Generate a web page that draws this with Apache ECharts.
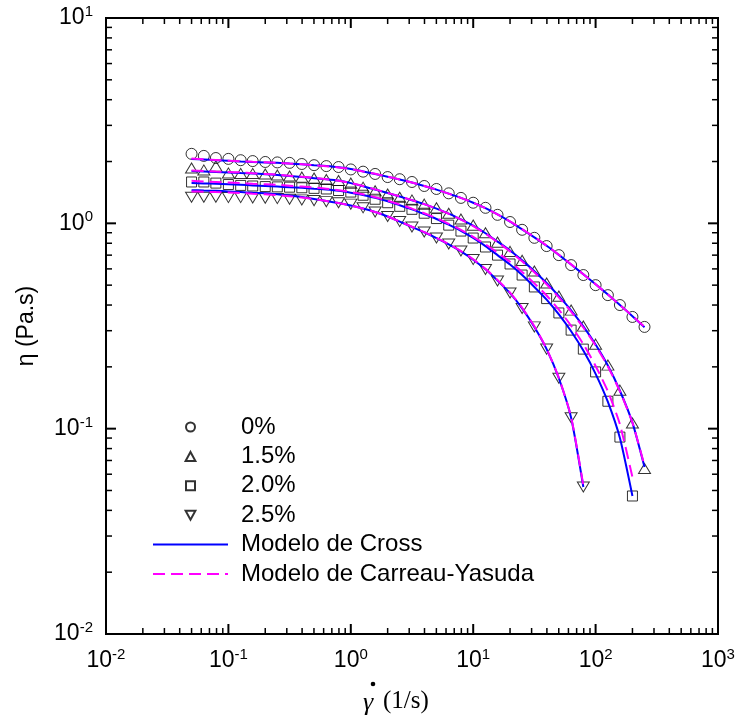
<!DOCTYPE html>
<html><head><meta charset="utf-8">
<script src="https://cdn.jsdelivr.net/npm/echarts@6/dist/echarts.min.js"></script>
<style>html,body{margin:0;padding:0;background:#fff}#c{width:738px;height:724px}</style>
</head><body><div id="c"></div><script>
// ---- data ----
const shear = [0.05,0.063,0.079,0.1,0.126,0.158,0.2,0.251,0.316,0.398,0.501,0.631,0.794,1,1.26,1.58,2,2.51,3.16,3.98,5.01,6.31,7.94,10,12.6,15.8,20,25.1,31.6,39.8,50.1,63.1,79.4,100,126,158,200,251];

const eta0  = [2.18,2.13,2.08,2.06,2.03,2.01,1.99,1.98,1.97,1.945,1.92,1.90,1.88,1.83,1.785,1.74,1.68,1.64,1.59,1.52,1.47,1.40,1.33,1.26,1.19,1.10,1.015,0.93,0.85,0.775,0.70,0.626,0.56,0.50,0.447,0.40,0.35,0.313];
const eta15 = [1.86,1.82,1.90,1.76,1.75,1.75,1.74,1.72,1.70,1.68,1.66,1.635,1.615,1.57,1.50,1.44,1.39,1.34,1.30,1.24,1.19,1.12,1.05,0.98,0.90,0.81,0.73,0.66,0.586,0.512,0.442,0.378,0.316,0.258,0.204,0.154,0.1065,0.064];
const eta20 = [1.59,1.59,1.57,1.545,1.53,1.52,1.51,1.505,1.50,1.49,1.48,1.47,1.445,1.42,1.37,1.31,1.26,1.21,1.17,1.12,1.055,0.98,0.917,0.848,0.767,0.70,0.634,0.56,0.49,0.43,0.366,0.302,0.244,0.189,0.136,0.091,0.047];
const eta25 = [1.34,1.34,1.34,1.335,1.335,1.33,1.325,1.32,1.31,1.30,1.29,1.275,1.26,1.24,1.19,1.135,1.08,1.02,0.96,0.907,0.848,0.793,0.733,0.666,0.596,0.524,0.458,0.385,0.313,0.244,0.176,0.113,0.052];

const cross0  = [2.06,2.045,2.03,2.015,2.0,1.99,1.98,1.97,1.955,1.94,1.92,1.90,1.875,1.84,1.79,1.74,1.685,1.635,1.58,1.52,1.46,1.395,1.33,1.26,1.185,1.105,1.02,0.935,0.855,0.778,0.702,0.63,0.565,0.505,0.45,0.40,0.353,0.312];
const cross15 = [1.80,1.79,1.78,1.77,1.76,1.75,1.735,1.72,1.70,1.68,1.66,1.64,1.615,1.57,1.515,1.46,1.405,1.35,1.295,1.24,1.18,1.115,1.045,0.975,0.895,0.815,0.737,0.66,0.585,0.512,0.442,0.377,0.315,0.257,0.203,0.153,0.107,0.065];
const cross20 = [1.57,1.565,1.56,1.55,1.54,1.53,1.52,1.51,1.50,1.49,1.475,1.46,1.44,1.41,1.375,1.33,1.28,1.225,1.17,1.11,1.05,0.985,0.92,0.85,0.775,0.70,0.63,0.56,0.49,0.425,0.36,0.298,0.24,0.185,0.135,0.09,0.047];
const cross25 = [1.45,1.445,1.44,1.43,1.42,1.41,1.40,1.385,1.365,1.342,1.315,1.285,1.255,1.22,1.18,1.135,1.08,1.02,0.96,0.905,0.848,0.79,0.73,0.665,0.597,0.526,0.457,0.385,0.313,0.244,0.176,0.113,0.052];

const cy0  = [2.07,2.05,2.035,2.02,2.005,1.993,1.982,1.97,1.955,1.94,1.92,1.898,1.872,1.84,1.79,1.742,1.688,1.635,1.58,1.52,1.46,1.395,1.33,1.26,1.185,1.105,1.022,0.938,0.857,0.779,0.703,0.631,0.565,0.505,0.45,0.40,0.354,0.313];
const cy15 = [1.81,1.80,1.79,1.78,1.77,1.755,1.74,1.725,1.705,1.685,1.665,1.64,1.613,1.572,1.52,1.463,1.407,1.352,1.297,1.24,1.18,1.113,1.043,0.97,0.89,0.81,0.73,0.653,0.578,0.505,0.436,0.372,0.311,0.254,0.201,0.152,0.107,0.066];
const cy20 = [1.61,1.60,1.59,1.58,1.57,1.56,1.55,1.54,1.525,1.51,1.495,1.475,1.45,1.42,1.385,1.34,1.29,1.235,1.18,1.12,1.06,0.995,0.93,0.86,0.79,0.72,0.65,0.58,0.51,0.445,0.38,0.317,0.258,0.202,0.152,0.105,0.058];
const cy25 = [1.43,1.425,1.42,1.415,1.405,1.395,1.385,1.37,1.355,1.335,1.312,1.285,1.255,1.22,1.18,1.135,1.08,1.02,0.962,0.906,0.85,0.792,0.732,0.668,0.6,0.53,0.46,0.388,0.315,0.245,0.177,0.114,0.053];

const seriesNames = ['0%','1.5%','2.0%','2.5%'];
const crossName = 'Modelo de Cross';
const cyName = 'Modelo de Carreau-Yasuda';
const xMajor = [0.01,0.1,1,10,100,1000];
const yMajor = [0.01,0.1,1,10];
const minorMult = [2,3,4,5,6,7,8,9];

// ---- build ----
const X_MIN = 0.01, X_MAX = 1000, Y_MIN = 0.01, Y_MAX = 10;
const pairs = (ys) => ys.map((y, i) => [shear[i], y]);
const FONT = 'Liberation Sans';

const tickData = [];
xMajor.forEach(v => tickData.push([v, 1, 0]));
[0.01,0.1,1,10,100].forEach(d => minorMult.forEach(m => tickData.push([d*m, 1, 1])));
yMajor.forEach(v => tickData.push([1, v, 2]));
[0.01,0.1,1].forEach(d => minorMult.forEach(m => tickData.push([1, d*m, 3])));

const pow10Label = v => {
  const e = Math.round(Math.log10(v));
  return '{b|10}{s|' + e + '}';
};
const labelRich = {
  b: {fontFamily: FONT, fontSize: 23, color: '#000', lineHeight: 27},
  s: {fontFamily: FONT, fontSize: 15, color: '#000', verticalAlign: 'top', lineHeight: 15}
};

const markerStyle = {color: 'rgba(0,0,0,0)', borderColor: '#000', borderWidth: 1};
const TRI_UP = 'path://M6,0L12,11L0,11Z';
const SQUARE = 'path://M0,0L10,0L10,10L0,10Z';
const TRI_DOWN = 'path://M0,0L12,0L6,11Z';
const symbols = [
  {symbol: 'circle', size: 11},
  {symbol: TRI_UP, size: [12, 11]},
  {symbol: SQUARE, size: 10},
  {symbol: TRI_DOWN, size: [12, 11]}
];
const legendIcons = ['circle', TRI_UP, SQUARE, TRI_DOWN];
const dataSets = [eta0, eta15, eta20, eta25];
const crossSets = [cross0, cross15, cross20, cross25];
const cySets = [cy0, cy15, cy20, cy25];

const series = [];
dataSets.forEach((d, k) => {
  series.push({
    name: seriesNames[k], type: 'scatter', data: pairs(d),
    symbol: symbols[k].symbol, symbolSize: symbols[k].size, symbolKeepAspect: true,
    itemStyle: markerStyle, z: 2, emphasis: {disabled: true}
  });
});
const hiddenItem = {color: 'rgba(0,0,0,0)', borderColor: 'rgba(0,0,0,0)', borderWidth: 0};
crossSets.forEach(d => {
  series.push({
    name: crossName, type: 'line', data: pairs(d), smooth: 0.2,
    symbol: 'none', showSymbol: false,
    lineStyle: {color: '#0000ff', width: 2, type: 'solid'},
    itemStyle: hiddenItem, z: 3, emphasis: {disabled: true}
  });
});
cySets.forEach(d => {
  series.push({
    name: cyName, type: 'line', data: pairs(d), smooth: 0.2,
    symbol: 'none', showSymbol: false,
    lineStyle: {color: '#ff00ff', width: 2, type: [12, 6]},
    itemStyle: hiddenItem, z: 4, emphasis: {disabled: true}
  });
});
series.push({
  type: 'custom', coordinateSystem: 'cartesian2d', silent: true, clip: false, z: 6,
  dimensions: ['x', 'y', 'k'], encode: {x: 0, y: 1},
  data: tickData,
  renderItem: function (params, api) {
    const v0 = api.value(0), v1 = api.value(1), k = api.value(2);
    const major = (k === 0 || k === 2);
    const len = major ? 10 : 6;
    const st = {stroke: '#000', lineWidth: major ? 2 : 1.5};
    if (k < 2) {
      const b = api.coord([v0, Y_MIN]), t = api.coord([v0, Y_MAX]);
      return {type: 'group', children: [
        {type: 'line', shape: {x1: b[0], y1: b[1], x2: b[0], y2: b[1] - len}, style: st},
        {type: 'line', shape: {x1: t[0], y1: t[1], x2: t[0], y2: t[1] + len}, style: st}
      ]};
    } else {
      const l = api.coord([X_MIN, v1]), r = api.coord([X_MAX, v1]);
      return {type: 'group', children: [
        {type: 'line', shape: {x1: l[0], y1: l[1], x2: l[0] + len, y2: l[1]}, style: st},
        {type: 'line', shape: {x1: r[0], y1: r[1], x2: r[0] - len, y2: r[1]}, style: st}
      ]};
    }
  }
});

const chart = echarts.init(document.getElementById('c'), null, {renderer: 'canvas'});
chart.setOption({
  animation: false,
  backgroundColor: '#fff',
  grid: {left: 106, right: 20, top: 18, bottom: 90, show: true, borderColor: '#000', borderWidth: 2,
         backgroundColor: 'rgba(0,0,0,0)', containLabel: false, outerBoundsMode: 'none'},
  xAxis: {
    type: 'log', logBase: 10, min: X_MIN, max: X_MAX,
    axisLine: {show: false}, axisTick: {show: false}, splitLine: {show: false}, minorTick: {show: false},
    axisLabel: {margin: 13, formatter: pow10Label, rich: labelRich, showMinLabel: true, showMaxLabel: true}
  },
  yAxis: {
    type: 'log', logBase: 10, min: Y_MIN, max: Y_MAX,
    axisLine: {show: false}, axisTick: {show: false}, splitLine: {show: false}, minorTick: {show: false},
    axisLabel: {margin: 13, formatter: pow10Label, rich: labelRich, showMinLabel: true, showMaxLabel: true},
    name: 'η (Pa.s)', nameLocation: 'middle', nameGap: 68,
    nameTextStyle: {fontFamily: FONT, fontSize: 23, color: '#000'}
  },
  legend: {
    left: 147, top: 410, orient: 'vertical', itemWidth: 75, itemHeight: 9, itemGap: 5.4,
    selectedMode: false, symbolKeepAspect: true,
    textStyle: {fontFamily: FONT, fontSize: 24, color: '#000', lineHeight: 24, padding: [0, 0, 0, 8]},
    data: seriesNames.map((n, k) => ({name: n, icon: legendIcons[k]})).concat([crossName, cyName])
  },
  graphic: [
    {type: 'circle', shape: {cx: 373, cy: 684, r: 2.3}, style: {fill: '#000'}},
    {type: 'text', left: 363, top: 690, style: {text: 'γ', font: 'italic 26px "Liberation Serif"', fill: '#000'}},
    {type: 'text', left: 383, top: 689, style: {text: '(1/s)', font: '25px "Liberation Serif"', fill: '#000'}}
  ],
  series: series
});
</script></body></html>
